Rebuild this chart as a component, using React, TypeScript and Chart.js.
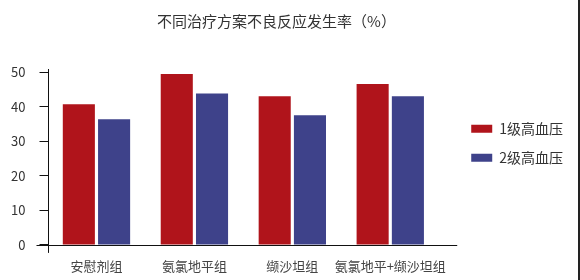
import React, { useEffect, useRef } from "react";
import { Chart, registerables } from "chart.js";

Chart.register(...registerables);

const categories = ["安慰剂组", "氨氯地平组", "缬沙坦组", "氨氯地平+缬沙坦组"];
const grade1 = [40.7, 49.4, 43.0, 46.5];
const grade2 = [36.3, 43.8, 37.5, 43.0];
const seriesNames = ["1级高血压", "2级高血压"];
const yTicks = [0, 10, 20, 30, 40, 50];
const titleText = "不同治疗方案不良反应发生率（%）";

const FONT = "'Noto Sans CJK SC', 'Noto Sans', sans-serif";

const axisLines = {
  id: "axisLines",
  afterDraw(chart: any) {
    const { ctx, chartArea, scales } = chart;
    const y0 = scales.y.getPixelForValue(0);
    ctx.save();
    ctx.strokeStyle = "#111";
    ctx.lineWidth = 1;
    ctx.beginPath();
    ctx.moveTo(chartArea.left - 11, Math.round(y0) + 0.5);
    ctx.lineTo(chartArea.right + 18, Math.round(y0) + 0.5);
    ctx.moveTo(Math.round(chartArea.left) + 0.5, chartArea.top - 3);
    ctx.lineTo(Math.round(chartArea.left) + 0.5, y0 + 8);
    ctx.stroke();
    ctx.restore();
  },
};

export default function App() {
  const ref = useRef<HTMLCanvasElement | null>(null);
  useEffect(() => {
    if (!ref.current) return;
    const chart = new Chart(ref.current, {
      type: "bar",
      data: {
        labels: categories,
        datasets: [
          { label: seriesNames[0], data: grade1, backgroundColor: "#b0141b" },
          { label: seriesNames[1], data: grade2, backgroundColor: "#3e428a" },
        ],
      },
      options: {
        animation: false,
        responsive: false,
        maintainAspectRatio: false,
        devicePixelRatio: 1,
        layout: { padding: { left: -20, right: 5, top: 0, bottom: -6.5 } },
        datasets: { bar: { barPercentage: 0.91, categoryPercentage: 0.72 } },
        plugins: {
          title: {
            display: true,
            text: titleText,
            color: "#333",
            font: { family: FONT, size: 15, weight: "normal" },
            padding: { top: 12, bottom: 42 },
          },
          legend: {
            position: "right",
            align: "center",
            maxWidth: 200,
            labels: {
              boxWidth: 21,
              boxHeight: 8,
              padding: 15,
              color: "#333",
              font: { family: FONT, size: 14 },
            },
          },
          tooltip: { enabled: false },
        },
        scales: {
          x: {
            grid: { display: false, drawTicks: false },
            border: { display: false },
            ticks: {
              color: "#444",
              padding: 13,
              maxRotation: 0,
              minRotation: 0,
              autoSkip: false,
              font: { family: FONT, size: 13 },
            },
          },
          y: {
            min: 0,
            max: 50,
            afterBuildTicks: (s: any) => {
              s.ticks = yTicks.map((v) => ({ value: v }));
            },
            afterFit: (s: any) => {
              s.width = 67.5;
            },
            grid: { drawOnChartArea: false, tickLength: 8, color: "#111" },
            border: { display: false },
            ticks: { color: "#333", padding: 14, font: { family: FONT, size: 13 } },
          },
          yr: {
            position: "right",
            display: true,
            grid: { display: false },
            border: { display: false },
            ticks: { display: false },
            afterFit: (s: any) => {
              s.width = 17;
            },
          },
        },
      } as any,
      plugins: [axisLines],
    });
    return () => chart.destroy();
  }, []);
  return (
    <div
      style={{
        position: "fixed",
        left: 0,
        top: 0,
        width: 580,
        height: 280,
        background: "#fff",
        boxSizing: "border-box",
        borderRight: "2px solid #222",
      }}
    >
      <canvas ref={ref} width={578} height={280} />
    </div>
  );
}
